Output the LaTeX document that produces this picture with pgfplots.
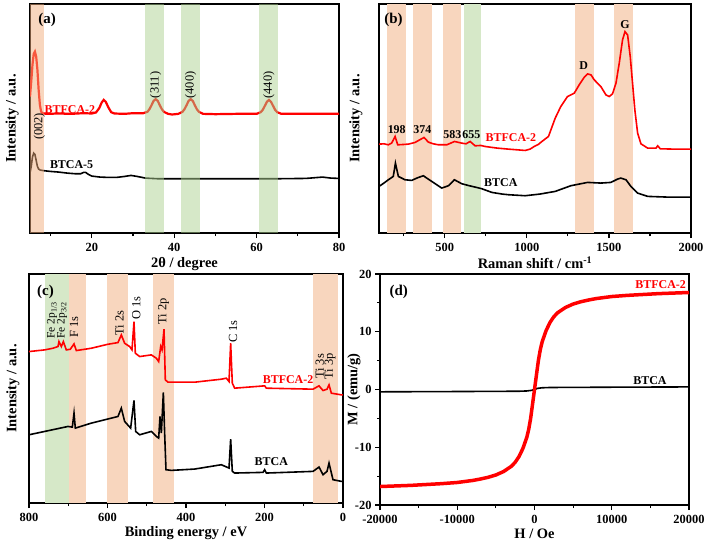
\documentclass[border=0pt]{standalone}
\usepackage{fontspec}
\setmainfont{Liberation Serif}
\usepackage{pgfplots}
\pgfplotsset{compat=1.18}
\definecolor{bandO}{RGB}{248,214,190}
\definecolor{bandG}{RGB}{214,232,200}
\definecolor{bandOa}{RGB}{241,173,125}
\definecolor{bandGa}{RGB}{173,209,145}
\definecolor{myred}{RGB}{255,0,0}
\tikzset{
  lbl/.style={font=\bfseries\fontsize{12}{12}\selectfont},
  pk/.style={font=\fontsize{12.5}{12.5}\selectfont},
  pks/.style={font=\fontsize{11.5}{11.5}\selectfont, inner sep=0.5bp},
  pan/.style={font=\bfseries\fontsize{15}{15}\selectfont},
}
\pgfplotsset{
  base/.style={
    scale only axis,
    axis line style={line width=1.5bp},
    tick align=outside,
    major tick length=5bp, minor tick length=3bp,
    tick style={line width=1.2bp, black},
    xtick pos=bottom, ytick pos=left,
    tick label style={font=\bfseries\fontsize{12.5}{12.5}\selectfont},
    xticklabel style={inner sep=0.5bp, yshift=-5bp},
    /pgf/number format/assume math mode=true,
    /pgf/number format/1000 sep={},
    scaled ticks=false,
    label style={font=\bfseries\fontsize{14.5}{14.5}\selectfont},
  },
  spec/.style={base, ymin=0, ymax=688, ytick=\empty, ylabel={Intensity / a.u.}},
}
\begin{document}
\begin{tikzpicture}
\useasboundingbox (0,0) rectangle (708bp,-543bp);
% ---------------- (a)
\begin{axis}[spec, at={(30bp,-233bp)}, anchor=south west, width=309bp, height=229bp,
  xmin=5, xmax=80, xtick={20,40,60,80}, minor xtick={10,30,50,70},
  xlabel={2θ / degree},
  xlabel style={at={(axis description cs:0.5,-0.152)}, anchor=base, inner sep=0.5bp},
  ylabel style={at={(axis description cs:-0.058,0.5)}, anchor=center}]
\addplot[black, line width=1.6bp] coordinates {
(5.0,181) (5.3,200) (5.6,228) (5.9,240) (6.2,236) (6.5,218) (6.8,200) (7.1,192) (7.5,189)
(8.5,187) (10,185) (12,183) (14,180) (16,178) (17.3,178) (18.0,182) (18.5,182) (19.2,176)
(20,171) (22,168) (24,167) (26,167) (28,170) (29.5,173) (31,170) (33,165) (36,163) (45,163)
(55,163) (65,163) (72,164) (76,168) (78,165) (80,164)};
\addplot[myred, line width=2.2bp] coordinates {
(5.0,410) (5.3,455) (5.6,505) (5.9,538) (6.2,545) (6.5,530) (6.8,490) (7.1,430) (7.4,385)
(7.7,365) (8.0,360) (9,358) (12,359) (15,358) (18,360) (20,359) (21,362) (21.8,375) (22.4,392)
(22.9,400) (23.4,394) (24.0,378) (24.7,363) (25.5,359) (28,358) (30,360) (32.5,360)
(33.5,364) (34.0,372) (34.5,384) (35.0,397) (35.5,402) (36.0,397) (36.5,384) (37.0,372)
(37.5,364) (38.5,358) (39.5,356) (41.0,358) (42.0,364) (42.5,372) (43.0,384) (43.5,397)
(44.0,402) (44.5,397) (45.0,384) (45.5,372) (46.0,364) (47.0,358) (50,357) (55,358) (60,358)
(61,363) (61.5,370) (62.0,382) (62.5,394) (63.0,400) (63.5,394) (64.0,382) (64.5,370)
(65.0,363) (66,358) (70,358) (75,358) (80,358)};
\addplot[draw=none, fill=bandOa, fill opacity=0.5] coordinates {(5,688) (8.4,688)} \closedcycle;
\addplot[draw=none, fill=bandGa, fill opacity=0.5] coordinates {(32.9,688) (37.6,688)} \closedcycle;
\addplot[draw=none, fill=bandGa, fill opacity=0.5] coordinates {(41.6,688) (46.2,688)} \closedcycle;
\addplot[draw=none, fill=bandGa, fill opacity=0.5] coordinates {(60.6,688) (65.1,688)} \closedcycle;
\node[pan, anchor=north west] at (rel axis cs:0.016,0.974) {(a)};
\node[lbl, text=myred] at (axis cs:14.7,370) {BTFCA-2};
\node[lbl] at (axis cs:15.1,205) {BTCA-5};
\node[pk, rotate=90] at (axis cs:7.26,320) {(002)};
\node[pk, rotate=90] at (axis cs:35.5,445) {(311)};
\node[pk, rotate=90] at (axis cs:44,445) {(400)};
\node[pk, rotate=90] at (axis cs:63,445) {(440)};
\end{axis}
% ---------------- (b)
\begin{axis}[spec, at={(379bp,-233bp)}, anchor=south west, width=312bp, height=229bp,
  xmin=100, xmax=2000, xtick={500,1000,1500,2000}, minor xtick={250,750,1250,1750},
  xlabel={Raman shift / cm\textsuperscript{-1}},
  xlabel style={at={(axis description cs:0.5,-0.155)}, anchor=base, inner sep=0.5bp},
  ylabel style={at={(axis description cs:-0.074,0.5)}, anchor=center}]
\addplot[draw=none, fill=bandO] coordinates {(151,688) (263,688)} \closedcycle;
\addplot[draw=none, fill=bandO] coordinates {(309,688) (421,688)} \closedcycle;
\addplot[draw=none, fill=bandO] coordinates {(492,688) (602,688)} \closedcycle;
\addplot[draw=none, fill=bandG] coordinates {(618,688) (724,688)} \closedcycle;
\addplot[draw=none, fill=bandO] coordinates {(1295,688) (1407,688)} \closedcycle;
\addplot[draw=none, fill=bandO] coordinates {(1533,688) (1646,688)} \closedcycle;
\addplot[black, line width=1.6bp] coordinates {
(100,140) (130,150) (157,160) (187,170) (200,210) (218,170) (258,160) (299,158) (335,166) (370,172) (421,155)
(482,135) (523,142) (559,160) (604,148) (650,142) (685,138) (726,133) (787,122) (850,117) (888,115) (990,112)
(1080,117) (1173,125) (1268,142) (1370,152) (1451,150) (1512,152) (1553,162) (1573,165) (1604,160)
(1634,140) (1675,120) (1736,110) (1850,108) (2000,108)};
\addplot[myred, line width=1.6bp] coordinates {
(100,267) (130,268) (157,265) (177,270) (198,290) (214,265) (250,266) (279,267) (319,272) (374,287) (401,273)
(430,268) (462,265) (513,265) (560,275) (604,270) (630,268) (655,275) (685,262) (720,263) (746,260) (790,257) (821,255) (888,252)
(940,250) (990,248) (1020,252) (1045,260) (1070,266) (1092,275) (1132,290) (1173,345) (1207,380) (1248,410) (1289,420)
(1319,445) (1350,468) (1370,478) (1391,475) (1411,460) (1451,440) (1482,415) (1502,410)
(1522,418) (1543,450) (1563,510) (1583,580) (1598,605) (1614,595) (1630,530) (1644,450)
(1658,370) (1675,300) (1695,268) (1736,255) (1787,255) (1797,262) (1813,253) (1898,252)
(2000,252)};
\node[pan, anchor=north west] at (rel axis cs:0.006,0.974) {(b)};
\node[lbl] at (axis cs:208,312) {198};
\node[lbl] at (axis cs:364,312) {374};
\node[lbl] at (axis cs:547,295) {583};
\node[lbl] at (axis cs:663,295) {655};
\node[lbl, text=myred] at (axis cs:903,288) {BTFCA-2};
\node[lbl] at (axis cs:842,152) {BTCA};
\node[lbl] at (axis cs:1346,503) {D};
\node[lbl] at (axis cs:1598,625) {G};
\end{axis}
% ---------------- (c)
\begin{axis}[spec, at={(29bp,-503bp)}, anchor=south west, width=314bp, height=229bp,
  xmin=0, xmax=800, x dir=reverse, xtick={0,200,400,600,800}, minor xtick={100,300,500,700},
  xlabel={Binding energy / eV},
  xlabel style={at={(axis description cs:0.5,-0.148)}, anchor=base, inner sep=0.5bp},
  ylabel style={at={(axis description cs:-0.051,0.5)}, anchor=center}]
\addplot[draw=none, fill=bandG] coordinates {(698,688) (760,688)} \closedcycle;
\addplot[draw=none, fill=bandO] coordinates {(656,688) (698,688)} \closedcycle;
\addplot[draw=none, fill=bandO] coordinates {(549,688) (601,688)} \closedcycle;
\addplot[draw=none, fill=bandO] coordinates {(431,688) (484,688)} \closedcycle;
\addplot[draw=none, fill=bandO] coordinates {(13,688) (76,688)} \closedcycle;
\addplot[black, line width=1.6bp] coordinates {
(800,205) (760.1,215) (700.6,230) (689.6,228) (685.3,270) (682,225) (641.2,240) (590.2,255)
(573.3,260) (564.8,285) (556.3,245) (541,225) (532.5,308) (528.2,215) (518,205) (488.3,215)
(475.6,200) (469.6,195) (466.2,260) (462.8,210) (457.7,332) (454.4,210) (451,100) (437.4,98)
(377.9,102) (310,115) (290.4,105) (286.2,192) (282,95) (276,90) (203.8,92) (199.6,100)
(195.3,90) (76.4,95) (61.1,108) (50.9,85) (40.7,95) (35.6,120) (25.5,70) (4.2,65) (0,65)};
\addplot[myred, line width=1.6bp] coordinates {
(800,455) (760.1,460) (738.9,465) (726.1,470) (723.6,485) (717.6,470) (712.5,485) (704.9,460)
(694.7,462) (685.3,478) (679.4,458) (641.2,465) (598.7,477) (573.3,482) (564.8,505) (556.3,480)
(543.5,470) (537.6,460) (532.5,545) (529.1,450) (518,440) (488.3,445) (475.6,435) (469.6,425)
(464.5,470) (461.1,460) (456,522) (452.7,370) (445.9,363) (377.9,363) (310,372) (297.2,375)
(290.4,365) (286.2,480) (282,360) (276,345) (199.6,352) (195.3,345) (76.4,342) (61.1,352)
(50.9,338) (40.7,342) (35.6,355) (29.7,330) (4.2,325) (0,325)};
\node[pan, anchor=north west] at (rel axis cs:0.015,0.965) {(c)};
\node[pks, rotate=90] at (axis cs:741,549) {Fe 2p\textsubscript{1/3}};
\node[pks, rotate=90] at (axis cs:716,549) {Fe 2p\textsubscript{3/2}};
\node[pk, rotate=90] at (axis cs:685,528) {F 1s};
\node[pk, rotate=90] at (axis cs:569,540) {Ti 2s};
\node[pk, rotate=90] at (axis cs:526.5,585) {O 1s};
\node[pk, rotate=90] at (axis cs:457,575) {Ti 2p};
\node[pk, rotate=90] at (axis cs:280,515) {C 1s};
\node[pk, rotate=90] at (axis cs:59,410) {Ti 3s};
\node[pk, rotate=90] at (axis cs:33,410) {Ti 3p};
\node[lbl, text=myred] at (axis cs:140,370) {BTFCA-2};
\node[lbl] at (axis cs:182.6,125) {BTCA};
\end{axis}
% ---------------- (d)
\begin{axis}[base, at={(380bp,-505bp)}, anchor=south west, width=309bp, height=231bp,
  xmin=-20000, xmax=20000, ymin=-20, ymax=20,
  xtick={-20000,-10000,0,10000,20000}, minor xtick={-15000,-5000,5000,15000},
  ytick={-20,-10,0,10,20}, minor ytick={-15,-5,5,15},
  xlabel={H / Oe}, ylabel={M / (emu/g)},
  xlabel style={at={(axis description cs:0.5,-0.145)}, anchor=base, inner sep=0.5bp},
  ylabel style={at={(axis description cs:-0.084,0.5)}, anchor=center}]
\addplot[black, line width=1.6bp] coordinates {
(-20000,-0.4) (-10000,-0.35) (-2000,-0.3) (-1000,-0.25) (-400,-0.15) (0,0) (400,0.2)
(1000,0.3) (2000,0.35) (10000,0.4) (20000,0.45)};
\addplot[myred, line width=3.5bp] coordinates {
(-20000,-16.8) (-18000,-16.7) (-16000,-16.6) (-14000,-16.45) (-12000,-16.3) (-10000,-16.1)
(-8000,-15.75) (-7000,-15.5) (-6000,-15.2) (-5000,-14.8) (-4000,-14.2) (-3000,-13.3)
(-2500,-12.6) (-2000,-11.6) (-1500,-10.2) (-1000,-8.3) (-750,-6.9) (-500,-5.0) (-250,-2.5)
(0,0) (250,2.5) (500,5.0) (750,6.9) (1000,8.3) (1500,10.2) (2000,11.6) (2500,12.6)
(3000,13.3) (4000,14.2) (5000,14.8) (6000,15.2) (7000,15.5) (8000,15.75) (10000,16.1)
(12000,16.3) (14000,16.45) (16000,16.6) (18000,16.7) (20000,16.8)};
\node[pan, anchor=north west] at (rel axis cs:0.02,0.966) {(d)};
\node[lbl, text=myred] at (axis cs:16330,18.1) {BTFCA-2};
\node[lbl] at (axis cs:14950,1.6) {BTCA};
\end{axis}
\end{tikzpicture}
\end{document}
